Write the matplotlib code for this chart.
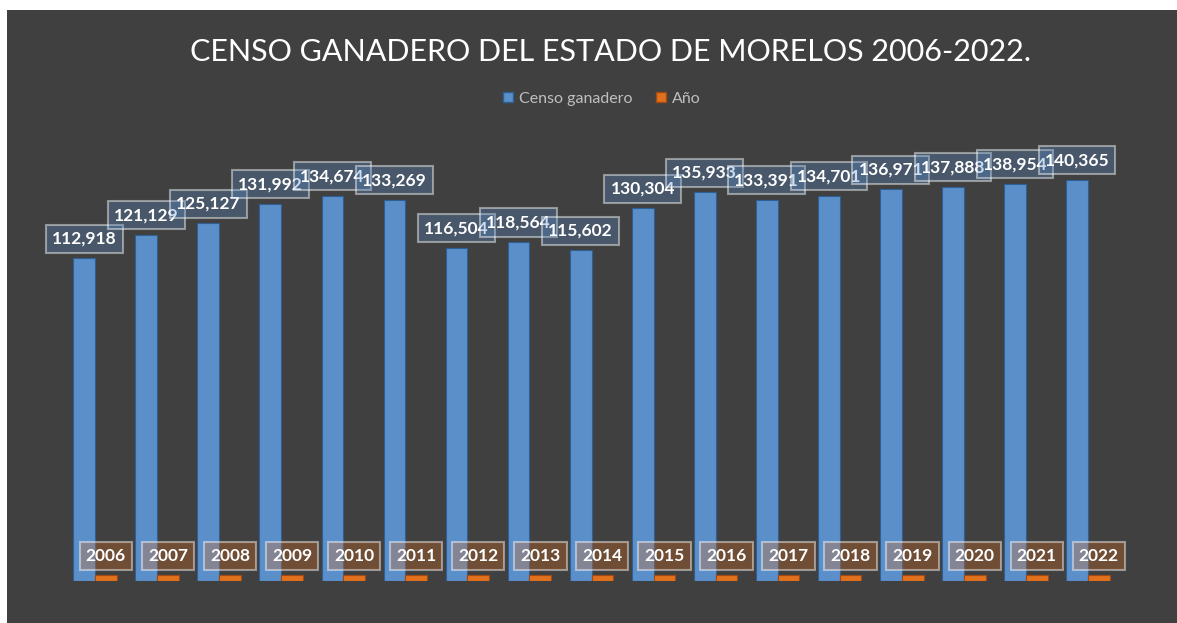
import matplotlib
matplotlib.use("Agg")
import matplotlib.pyplot as plt
from matplotlib.patches import Rectangle, Patch
import numpy as np

# data
years = [2006, 2007, 2008, 2009, 2010, 2011, 2012, 2013, 2014,
         2015, 2016, 2017, 2018, 2019, 2020, 2021, 2022]
censo = [112918, 121129, 125127, 131992, 134674, 133269, 116504, 118564, 115602,
         130304, 135933, 133391, 134701, 136971, 137888, 138954, 140365]

blue = "#5a8fca"
orange = "#e2711d"
bg = "#404040"

plt.rcParams["font.family"] = ["Lato", "DejaVu Sans"]

fig = plt.figure(figsize=(11.77, 6.23), dpi=100)
fig.patch.set_facecolor("white")
# dark chart area, with a small white margin left and top like the screenshot
fig.add_artist(Rectangle((7 / 1177, 0), 1 - 7 / 1177, 1 - 10 / 623,
                         transform=fig.transFigure, facecolor=bg, edgecolor="none", zorder=0))

ax = fig.add_axes([64 / 1177, 42 / 623, 1055 / 1177, 0.7345])
ax.set_facecolor("none")
x = np.arange(len(years))
w = 0.35
b1 = ax.bar(x - w / 2, censo, w, color=blue, edgecolor="#2f5f93", linewidth=0.8)
b2 = ax.bar(x + w / 2, years, w, color=orange, edgecolor="#a04a14", linewidth=0.8)
ax.set_xlim(-0.5, len(years) - 0.5)
ax.set_ylim(0, 160000)
ax.axis("off")

# data labels
for bar, v in zip(b1, censo):
    ax.annotate(f"{v:,}", (bar.get_x() + bar.get_width() / 2, v), xytext=(0, 14),
                textcoords="offset points", ha="center", va="center",
                color="white", fontsize=12.5, fontweight="bold",
                bbox=dict(boxstyle="square,pad=0.35", fc=(91 / 255, 143 / 255, 202 / 255, 0.3),
                          ec=(1, 1, 1, 0.45), lw=1.5))
for bar, v in zip(b2, years):
    ax.annotate(str(v), (bar.get_x() + bar.get_width() / 2, v), xytext=(0, 14),
                textcoords="offset points", ha="center", va="center",
                color="white", fontsize=12.5, fontweight="bold",
                bbox=dict(boxstyle="square,pad=0.35", fc=(226 / 255, 113 / 255, 29 / 255, 0.3),
                          ec=(1, 1, 1, 0.45), lw=1.5))

fig.text(611 / 1177, 1 - 52 / 623, "CENSO GANADERO DEL ESTADO DE MORELOS 2006-2022.",
         ha="center", va="center", color="white", fontsize=22)

handles = [Patch(facecolor=blue, edgecolor="#2f5f93"), Patch(facecolor=orange, edgecolor="#a04a14")]
fig.legend(handles, ["Censo ganadero", "Año"], loc="center", ncol=2, frameon=False,
           bbox_to_anchor=(602 / 1177, 1 - 99 / 623), labelcolor="#bfbfbf", fontsize=11.5,
           handlelength=0.6, handleheight=0.6, handletextpad=0.4, columnspacing=1.5)

fig.savefig("out.png", dpi=100)
